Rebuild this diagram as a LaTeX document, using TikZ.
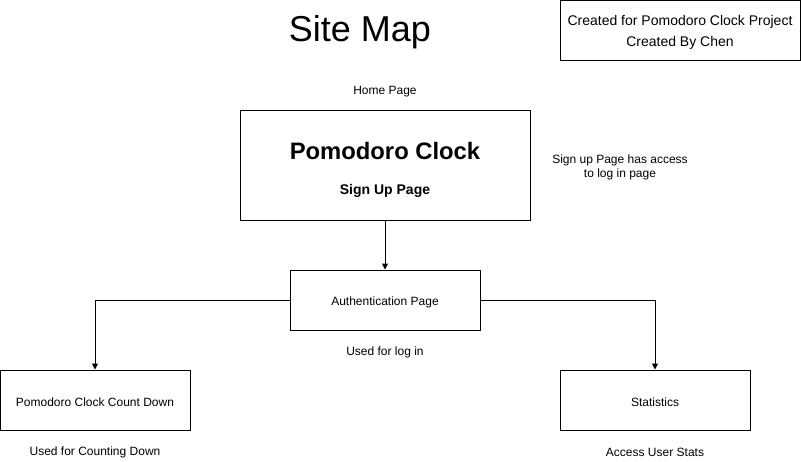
\documentclass[tikz,border=0pt]{standalone}
\usepackage{fontspec}
\setmainfont{Liberation Sans}
\usetikzlibrary{arrows.meta}
\begin{document}
\begin{tikzpicture}[x=1pt,y=-1pt,
  box/.style={draw=black,line width=1pt,fill=white,inner sep=0pt},
  lbl/.style={inner sep=0pt,font=\fontsize{12}{14}\selectfont,align=center},
  link/.style={draw=black,line width=1pt,-{Triangle[length=6pt,width=6pt]}}]
  \path[use as bounding box,fill=white] (0,0) rectangle (801,461);

  % title and credits
  \node[inner sep=0pt,font=\fontsize{36}{40}\selectfont] (title) at (360,32) {Site Map};
  \node[box,minimum width=240pt,minimum height=60pt] (credit) at (680,30) {};
  \node[lbl,font=\fontsize{14}{21}\selectfont] (credittxt) at (680,32.5) {Created for Pomodoro Clock Project\\Created By Chen};

  % home / sign up page
  \node[lbl] (homelbl) at (385,92) {Home Page};
  \node[box,minimum width=290pt,minimum height=110pt] (home) at (385,165) {};
  \node[inner sep=0pt,font=\fontsize{23.8}{26}\selectfont\bfseries] (hometitle) at (385,151) {Pomodoro Clock};
  \node[inner sep=0pt,font=\fontsize{14}{16}\selectfont\bfseries] (homesub) at (385,190.5) {Sign Up Page};
  \node[lbl,font=\fontsize{12}{14}\selectfont] (note) at (620,167) {Sign up Page has access\\to log in page};

  % authentication
  \node[box,minimum width=190pt,minimum height=60pt] (auth) at (385,300) {};
  \node[lbl] (authtxt) at (385,302) {Authentication Page};
  \node[lbl] (authlbl) at (385,352) {Used for log in};

  % leaves
  \node[box,minimum width=190pt,minimum height=60pt] (count) at (95,400) {};
  \node[lbl] (counttxt) at (95,402) {Pomodoro Clock Count Down};
  \node[lbl] (countlbl) at (95,452) {Used for Counting Down};

  \node[box,minimum width=190pt,minimum height=60pt] (stats) at (655,400) {};
  \node[lbl] (statstxt) at (655,402) {Statistics};
  \node[lbl] (statslbl) at (655,452) {Access User Stats};

  % connectors
  \draw[link] (home.south) -- (auth.north);
  \draw[link] (auth.west) -| (count.north);
  \draw[link] (auth.east) -| (stats.north);
\end{tikzpicture}
\end{document}
